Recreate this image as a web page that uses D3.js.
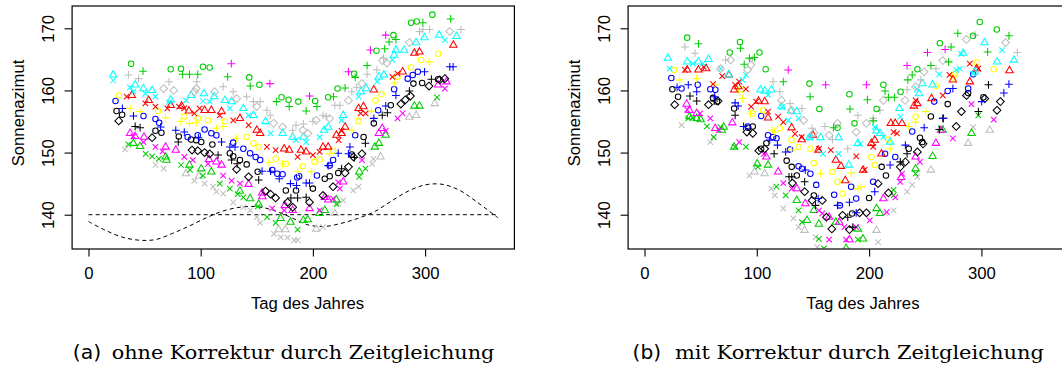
<!DOCTYPE html>
<html><head><meta charset="utf-8">
<script src="https://cdn.jsdelivr.net/npm/d3@7"></script>
<style>body{margin:0;background:#fff}svg{display:block}</style>
</head><body><svg id="c" width="1062" height="367"></svg>
<script>
// ---------- data ----------
const xTicks = [0, 100, 200, 300];
const yTicks = [140, 150, 160, 170];
const xLabel = "Tag des Jahres";
const yLabel = "Sonnenazimut";
const captionA = ["(a)", "ohne Korrektur durch Zeitgleichung"];
const captionB = ["(b)", "mit Korrektur durch Zeitgleichung"];

// equation-of-time reference curve (panel a)
const eotDay = [0, 15, 30, 45, 60, 75, 90, 105, 120, 135, 150, 165, 180, 195, 210, 225, 240, 255, 270, 285, 300, 315, 330, 345, 365];
const eotAz  = [138.9, 137.5, 136.4, 135.9, 136.0, 137.0, 138.2, 139.5, 140.6, 141.2, 141.3, 140.7, 139.6, 138.4, 138.1, 138.6, 139.4, 140.5, 142.2, 143.8, 144.8, 144.9, 144.0, 142.2, 139.5];
const baseDay = [0, 365];
const baseAz = [140, 140];

// panel (a): [day, azimuth, symbol]  o=circle t=triangle p=plus x=cross d=diamond
const a_green1 = [[38,164.3,"o"],[48.6,163.1,"p"],[73.3,163.4,"o"],[82.4,163.5,"o"],[83.9,162.6,"p"],[90,162.6,"p"],[97.4,162.6,"p"],[102,163.8,"o"],[108,163.7,"o"],[124,162.2,"p"],[143.3,162.1,"o"],[144.2,160.7,"p"],[152.3,160.9,"o"],[167.7,158.2,"p"],[172,158.9,"o"],[178.3,158.5,"o"],[178.9,157.4,"p"],[187,158.2,"o"],[194,156.7,"p"],[202,158.3,"o"],[203.6,157.4,"p"],[213.6,158.9,"o"],[218.4,159,"p"],[222,160.3,"o"],[228.7,160.4,"p"],[236.8,162.7,"o"],[237.7,162.1,"p"],[248.3,164,"p"],[256.7,166.4,"o"],[264,166.7,"p"],[268,167.8,"p"],[271.8,168.9,"o"],[274,168.2,"p"],[287.5,170.9,"o"],[292.6,171.1,"o"],[298,170.9,"p"],[306.5,172.2,"o"],[322.8,171.5,"p"]];
const a_magentaPlus = [[127.3,164.3,"p"],[161.7,161.1,"p"],[197,159.1,"p"],[231.7,163,"p"],[251.3,166.5,"p"],[264.9,168.9,"p"]];
const a_gray1 = [[35.6,162.5,"p"],[44.6,161.9,"p"],[67,160.3,"d"],[71.8,161.4,"p"],[76,160,"d"],[94.4,159.8,"d"],[96,160.3,"d"],[96.5,161.4,"p"],[112.5,159.8,"d"],[120,160.6,"p"],[129,159.8,"p"],[132,158.7,"d"],[141,159,"p"],[147,158.2,"p"],[150,157.4,"d"],[153,158.2,"p"],[159,156.8,"p"],[162,156,"p"],[165,154.7,"d"],[173,154.1,"d"],[182,153.6,"p"],[185,154.4,"p"],[191,153.6,"d"],[191.5,154.6,"p"],[195.5,153.1,"d"],[200,155,"p"],[203,155.2,"d"],[209,156,"p"],[212,155.8,"p"],[215,155.5,"d"],[219.6,157.6,"p"],[224,157.6,"p"],[231.7,158.4,"d"],[234.7,159.8,"p"],[239,160.5,"p"],[243.7,161.1,"d"],[248.3,162.6,"p"],[257,163.3,"p"],[262,164.8,"d"],[263,165.2,"p"],[266,164.4,"d"],[286,167.7,"d"],[295,169.5,"p"],[298,169.8,"p"],[304,169.8,"p"],[322,169.5,"d"],[332,169.8,"p"]];
const a_cyan = [[22,162.5,"t"],[22,161.6,"x"],[37,160.5,"x"],[40,159.8,"x"],[41.6,160.9,"t"],[49,160.3,"t"],[50.7,159.5,"x"],[56.7,160,"t"],[59.7,159,"x"],[73.3,158.5,"t"],[72,158.1,"x"],[86.9,158.4,"x"],[91.4,159.2,"t"],[102.9,159.5,"t"],[102,158.3,"x"],[108,158.2,"x"],[112,159,"t"],[121.6,158.4,"t"],[126,157.1,"x"],[127.6,158.2,"t"],[138,157.1,"t"],[142.7,156,"x"],[147,156,"t"],[157.8,155,"t"],[162.3,153.1,"x"],[173,153.1,"t"],[182,152.5,"t"],[185,152,"x"],[191.5,152.5,"t"],[194,151.7,"x"],[206,152.5,"x"],[210,153.6,"t"],[213.6,154.1,"t"],[225.6,155.2,"x"],[227,156,"t"],[240.7,159,"x"],[242.8,159.8,"t"],[247.5,160.3,"t"],[257.3,161.4,"x"],[258.8,162.2,"t"],[263.3,162.5,"t"],[270.9,164.9,"x"],[272.4,165.7,"t"],[274,166.5,"t"],[281.4,166.5,"t"],[292,167.7,"t"],[299.5,168.5,"t"],[312.5,168.9,"t"],[317.6,168.1,"x"],[328,168.7,"t"]];
const a_red = [[34,159,"x"],[38.6,159.2,"t"],[50.7,157.9,"x"],[53.7,158.4,"t"],[59.7,157.4,"x"],[70.3,157.1,"x"],[73.3,157.6,"t"],[80.8,157.4,"x"],[83,157.5,"t"],[85.4,157.1,"x"],[89.5,156.7,"t"],[94.4,156.3,"x"],[99,157.1,"x"],[103.5,156.8,"t"],[109.5,156.8,"t"],[117,156,"x"],[118.6,156.6,"t"],[129,155.2,"x"],[135,155.5,"t"],[142.7,154.4,"x"],[150,153.6,"t"],[153,153.1,"t"],[159,150.9,"x"],[166.8,150.4,"x"],[174.4,150.6,"t"],[178.9,150.4,"t"],[186.4,149.3,"x"],[189.4,150.4,"t"],[194,150.1,"t"],[200,149.6,"x"],[206,150.1,"x"],[209,150.9,"t"],[213.6,150.9,"t"],[221,152.8,"t"],[223,152,"x"],[225.6,153.1,"t"],[228.7,154.1,"t"],[225.5,153.5,"x"],[240.7,157.1,"t"],[242.5,156.3,"x"],[245,157.4,"t"],[247,156.3,"x"],[254.3,160.1,"t"],[270.9,162.2,"x"],[275.4,162.7,"x"],[280,163,"t"],[290.5,166,"t"],[295,166.2,"t"],[325.2,167.3,"t"]];
const a_yellow = [[27.1,159.2,"o"],[37,157.1,"p"],[46,156.6,"p"],[62,156.7,"o"],[68.8,155.6,"p"],[82.4,155,"p"],[85.4,155.8,"o"],[90,154.7,"p"],[96,154.8,"p"],[97.4,155.5,"o"],[106.5,155.2,"o"],[114,153.9,"p"],[120,154.2,"p"],[121.6,155,"o"],[132,152.3,"p"],[141,152.5,"o"],[147,151.5,"o"],[151.7,150.9,"o"],[160.8,148.4,"p"],[166.8,149,"o"],[172.9,148.2,"p"],[175.9,148.2,"o"],[186.4,147,"p"],[191,147.8,"o"],[198.5,146.9,"p"],[201.5,148.5,"o"],[206,148.9,"o"],[215,149.8,"p"],[218.1,150.3,"o"],[234.7,153.6,"p"],[240.7,155.1,"o"],[252.2,156.7,"p"],[255.8,158.4,"o"],[261.2,159.4,"o"],[272.4,161.2,"p"],[275.4,162.2,"o"],[287.5,163.7,"o"],[296.5,164.9,"o"],[303.5,164.6,"p"],[311.6,165.9,"o"]];
const a_blue = [[24.1,158.3,"o"],[30.2,157.1,"p"],[40.1,155.9,"p"],[49,155.9,"o"],[59.7,155.4,"o"],[63,154.8,"o"],[64.3,154.1,"p"],[77.8,153.6,"p"],[85.4,153.3,"p"],[88.4,152.5,"o"],[97.4,152.8,"o"],[98,152.4,"p"],[103.5,153.7,"o"],[109.5,153.1,"o"],[114,152.8,"o"],[118.6,151.7,"p"],[126,150.9,"p"],[129,151.6,"o"],[130.6,150.9,"p"],[138,150.6,"o"],[144,149.9,"o"],[149,149.3,"o"],[153,148.8,"o"],[154.7,147,"p"],[162.3,147,"p"],[163.8,147.2,"o"],[168.3,146.6,"o"],[170,145.8,"p"],[173,146.5,"o"],[180,145,"p"],[185.4,144.7,"p"],[186,146,"o"],[187.8,146.2,"o"],[194,145.1,"p"],[197,145.1,"p"],[203.6,146.3,"o"],[213.6,147.9,"p"],[215,147.9,"o"],[218,148.8,"o"],[222.6,149.9,"p"],[231.7,149.8,"p"],[233,150.9,"p"],[237.7,152.8,"o"],[254.3,155.5,"p"],[258.2,156.8,"o"],[264.9,157.5,"p"],[272.4,160.2,"o"],[274,159.2,"p"],[284.5,161.9,"o"],[289,162.5,"o"],[293.5,163,"o"],[299.5,163,"p"],[322,163.8,"p"],[325,163.8,"p"]];
const a_black = [[25,156.7,"o"],[27,155.1,"d"],[30,156.1,"o"],[41.6,154.2,"p"],[46,154,"p"],[56.7,152.4,"d"],[59.7,153.5,"o"],[65,153.2,"o"],[80,151.7,"p"],[80.5,152.6,"o"],[91.4,152.1,"o"],[92.3,150.4,"d"],[96,152,"o"],[97.4,150.3,"d"],[100.5,151.7,"o"],[103.5,150,"d"],[108,149.8,"d"],[110.4,151.3,"o"],[115.5,149.6,"p"],[126,149.9,"o"],[127.6,148.8,"p"],[129,149.4,"o"],[132,147.3,"d"],[132.5,148.2,"p"],[135,148.8,"o"],[141,148.1,"o"],[142.7,146.1,"d"],[150.8,146.9,"o"],[151.7,145.6,"p"],[157.8,143.8,"d"],[162.3,143.3,"d"],[166.8,142.7,"d"],[175.9,143.9,"o"],[177.4,142,"d"],[180.4,142.7,"p"],[182,141.2,"d"],[185,143.9,"o"],[186.4,142.7,"p"],[194,142.8,"p"],[197,142,"d"],[200,144.2,"o"],[209,143.1,"d"],[210.6,145.8,"o"],[215,146.2,"o"],[218,144.5,"d"],[222.6,146.7,"o"],[225.6,147.4,"p"],[228.7,146.7,"d"],[231.7,147.7,"d"],[234.7,149.7,"o"],[236.2,149.3,"d"],[237,149.2,"p"],[243.7,149.8,"d"],[245.2,152.5,"o"],[246.8,151.5,"p"],[254.3,154.7,"o"],[261.8,156,"p"],[266.4,156.4,"p"],[269.4,157.6,"o"],[278.4,157.8,"d"],[282.4,158.5,"d"],[286,159.9,"p"],[286.9,159.1,"d"],[289.6,161.1,"o"],[297.4,161.2,"o"],[303.5,160.7,"d"],[305.6,161.8,"p"],[311.6,161.8,"o"],[313,161.7,"d"],[317.6,161.9,"d"]];
const a_magenta = [[37.1,153.1,"t"],[40,152.6,"x"],[41.6,152.6,"t"],[49,151.7,"x"],[49.5,152.5,"t"],[59.7,150.9,"x"],[66,150.2,"x"],[68.8,150.9,"t"],[77.8,150.4,"t"],[85.4,149.3,"x"],[93,148.8,"x"],[106.5,148.2,"x"],[107.4,148.9,"t"],[114,148.5,"t"],[118.6,148,"t"],[120,146.3,"x"],[127.6,145.5,"x"],[135,145,"x"],[142.7,144.9,"t"],[154.7,143.5,"t"],[155,142.9,"t"],[163.8,141,"x"],[174.4,140.7,"x"],[175,141.5,"t"],[182,140.7,"t"],[197,141,"t"],[206,140.7,"x"],[210.6,142.8,"t"],[213.6,142.4,"t"],[218,142.6,"x"],[222.6,145.2,"x"],[224,144.2,"x"],[227,145.3,"t"],[243.7,148.8,"x"],[258.8,153.1,"t"],[261.8,153.9,"t"],[264.9,153.5,"x"],[275.4,155.5,"x"],[280,156.3,"x"],[311.6,160.9,"t"],[317.6,160.3,"x"],[319,161.4,"t"]];
const a_green2 = [[35.6,151.3,"x"],[40,151.5,"t"],[46,151,"t"],[51,149.8,"x"],[56.7,149.4,"x"],[62.7,149,"x"],[68.8,149.3,"t"],[69.5,148.8,"t"],[82.4,148,"x"],[89.9,148,"t"],[90.5,147.2,"x"],[100.5,147.4,"t"],[102,146.3,"x"],[109.5,146.9,"t"],[117,145,"x"],[126,144.2,"x"],[133,143.3,"x"],[135,143.8,"t"],[138,142.8,"x"],[144,142.6,"t"],[151.7,141.7,"t"],[150.8,141.3,"x"],[159.2,139.6,"x"],[166.8,138.7,"x"],[171.3,139.4,"t"],[180,138.8,"t"],[186.4,137.6,"x"],[191.5,139.1,"t"],[195.5,139.2,"t"],[206,140.2,"t"],[210.6,140.7,"t"],[221,142.4,"t"],[221,141.7,"x"],[241.3,146.9,"t"],[241.3,146.1,"x"],[246.8,147.4,"x"],[255.2,150.9,"t"],[258.8,151.5,"t"],[264.9,152.8,"t"],[290.5,157.5,"t"],[295,157.5,"t"],[310.7,158.9,"x"]];
const a_gray2 = [[32.6,150.5,"x"],[59.7,148,"x"],[67,147.4,"x"],[86.9,146.6,"t"],[94.4,145.5,"x"],[98.5,146.2,"t"],[103.5,145,"x"],[111,144.5,"x"],[114,143.7,"x"],[120,143.4,"x"],[129,142,"x"],[138,141.2,"x"],[144.2,140.7,"x"],[150,139.6,"x"],[153,138.7,"x"],[165.3,136.9,"x"],[169.5,137.6,"t"],[171.3,136.4,"x"],[175.5,137.6,"t"],[177.4,136.3,"x"],[183.4,135.9,"x"],[186.4,135.9,"x"],[203,137.7,"t"],[209,138,"x"],[219.6,140.2,"t"],[222.6,141.8,"x"],[227,142.3,"x"],[236,143.9,"x"],[240.7,144.5,"x"],[252.8,148.2,"x"],[254,149,"x"],[260.3,149.3,"t"],[286,155.7,"t"],[292,156,"t"],[308.6,157.9,"t"]];

// panel (b)
const b_green1 = [[38,168.5,"o"],[48,167.5,"p"],[75.9,166.1,"o"],[85,167.8,"o"],[85.5,166.8,"p"],[88.8,164.2,"p"],[93.4,165.2,"p"],[97.9,165.3,"p"],[102.4,166.1,"o"],[107.9,163.4,"o"],[123.6,161.4,"p"],[146.9,161.1,"o"],[147.5,159,"p"],[155.7,157,"o"],[168.3,154,"p"],[171.9,154,"o"],[182.5,159.4,"o"],[183,157,"p"],[187,154.7,"o"],[198.5,158.5,"p"],[206.7,157,"o"],[203.6,155.1,"p"],[212.7,160.9,"o"],[214.2,159.9,"p"],[217.2,158.9,"p"],[222.5,158.9,"p"],[228,159.8,"o"],[234.5,161.7,"p"],[243,163.4,"o"],[238.4,162.5,"p"],[255,164,"p"],[263,167.6,"o"],[270.8,164.6,"p"],[273,167,"p"],[279,169.2,"p"],[292.5,168.8,"o"],[298.5,171,"o"],[305.5,166.2,"p"],[313.7,169.8,"o"],[324.5,168.8,"p"]];
const b_magentaPlus = [[128,163.3,"p"],[161.3,160.9,"p"],[197.6,160.9,"p"],[233.8,164,"p"],[252,166.1,"p"],[267.7,166.6,"p"]];
const b_gray1 = [[36,167,"p"],[45,166,"p"],[67.7,163.5,"d"],[76.7,164.9,"d"],[72.2,164.9,"p"],[91.8,163.3,"d"],[94.9,164.1,"d"],[96,165,"p"],[114.5,161.4,"p"],[120.5,159.8,"p"],[122,158.4,"d"],[129.6,157.9,"p"],[131,156.8,"d"],[140.2,157.1,"p"],[141.7,155.2,"d"],[149.2,153.9,"p"],[151,153.2,"d"],[160.7,154.2,"p"],[164.4,152.8,"d"],[171.9,154.7,"d"],[167.4,152.1,"p"],[181,150.6,"p"],[188.5,153.3,"d"],[190,156,"p"],[197.6,154.7,"d"],[203.6,155.5,"p"],[209.7,156.8,"p"],[212.7,158.4,"d"],[233.8,160.1,"p"],[232,158.4,"d"],[241.4,160.6,"d"],[246,161.7,"p"],[249,163,"d"],[259.5,163.5,"p"],[265.6,164.8,"d"],[286.7,168.2,"d"],[294.3,168.9,"p"],[321.5,167.7,"d"],[332,166.1,"p"]];
const b_cyan = [[20.8,165.2,"t"],[22.4,163.5,"x"],[38,164.6,"t"],[48,164.6,"t"],[57,165,"t"],[43,164.3,"x"],[52,164.3,"x"],[67.7,163.5,"x"],[75,162.5,"t"],[87.3,161.7,"x"],[90.3,162.5,"x"],[103.3,160.1,"t"],[107,159.9,"t"],[110,159.3,"x"],[113,160.1,"t"],[122,157.4,"t"],[122.7,157.3,"x"],[130.5,156.7,"t"],[135.6,156.6,"t"],[128,155.2,"x"],[137.2,155.5,"x"],[146.8,152.4,"t"],[147.5,152.4,"x"],[156.8,152.4,"t"],[158.9,149.8,"x"],[172.8,152.4,"t"],[181.9,148,"t"],[172.8,149.8,"x"],[190,151.5,"t"],[192,151.4,"x"],[206.6,153.5,"t"],[205,154.1,"x"],[209.7,153.1,"t"],[212.7,152.5,"x"],[218.7,151.7,"t"],[227,157.1,"t"],[227.8,155.8,"x"],[244.4,159.5,"t"],[247.4,161.1,"t"],[242.5,160.2,"x"],[256.5,160.9,"t"],[262.5,162.6,"x"],[277.6,163.3,"x"],[280.7,163.5,"x"],[283.7,166,"t"],[282,165.9,"x"],[294.3,163,"t"],[292.7,162.7,"x"],[302.7,167.7,"t"],[313.9,164.6,"t"],[318.4,166.5,"x"],[329,164.9,"t"]];
const b_red = [[38,163.3,"t"],[48,163.3,"t"],[36,163.3,"x"],[52.6,163.8,"x"],[55,163.5,"t"],[61,161,"x"],[69.2,162.3,"x"],[75.2,162.5,"t"],[80.7,160.9,"x"],[84.3,161.4,"x"],[79.8,160.1,"t"],[83.5,160.6,"t"],[90.3,160.2,"x"],[94.9,157.4,"x"],[99.4,158.2,"x"],[101.5,158.3,"t"],[107,158.2,"t"],[110,156.6,"x"],[110,155.6,"t"],[119,155.8,"x"],[123.6,154.9,"x"],[131,154,"t"],[134,153,"x"],[140,152.1,"t"],[140,152.5,"x"],[150,152.8,"t"],[155.3,150.6,"x"],[154.7,150.4,"t"],[170.4,148.8,"t"],[175,147.8,"t"],[165.9,150.4,"x"],[178.8,145.5,"t"],[188.5,149.4,"x"],[196,147.2,"x"],[194.6,147.2,"t"],[202,151.5,"t"],[205,152,"t"],[203.6,150.9,"x"],[211,149.8,"t"],[219.3,154.7,"t"],[223.3,154.7,"t"],[229.3,154.7,"t"],[221.8,153.3,"x"],[224.8,153.1,"x"],[239.9,157.5,"t"],[242.9,157.9,"t"],[241.4,158.4,"x"],[255.6,158.7,"t"],[265.6,159.2,"x"],[274.6,161.7,"t"],[271.6,162.5,"x"],[289.7,161.4,"t"],[295.8,163.5,"t"],[289.7,164.3,"x"],[297.2,163.5,"x"],[325,163.2,"t"]];
const b_yellow = [[26.3,163.3,"o"],[31.4,161.7,"p"],[46.5,161.9,"p"],[63,160.9,"p"],[84.3,159.8,"p"],[87.3,158.7,"p"],[85.8,160.2,"o"],[94.3,156.3,"p"],[96.4,156.3,"o"],[105.4,156.8,"o"],[113.6,153.6,"p"],[116,153.3,"p"],[120.5,153.9,"o"],[131,152,"o"],[131,150.4,"p"],[137.2,150.9,"o"],[147.7,150.6,"o"],[150.7,148.3,"o"],[156.8,146.6,"p"],[167.4,146.9,"o"],[171.9,145.3,"o"],[176.4,143.4,"o"],[184,146.7,"p"],[190,144.2,"p"],[193,144.5,"p"],[202,149.3,"o"],[205,148,"o"],[217.2,152.1,"o"],[218.7,150.6,"p"],[235.3,154.2,"p"],[241.4,154.9,"p"],[241.4,155.8,"o"],[250.5,156.6,"p"],[259.5,160.7,"o"],[274.6,162.1,"o"],[276.1,162.6,"o"],[295.8,164.5,"o"],[311,163.4,"o"]];
const b_blue = [[23.9,162,"o"],[29,160.5,"p"],[33,160.3,"o"],[39,160.9,"p"],[46.5,159.8,"p"],[47.4,160.9,"o"],[58.6,160.2,"o"],[63.1,160.1,"o"],[62.5,159,"p"],[80.7,158,"p"],[83.4,157.5,"p"],[88.2,154.2,"p"],[91.8,154.2,"o"],[103.9,155.9,"o"],[110,152.8,"o"],[114.5,152.5,"o"],[117.5,152.3,"o"],[111.5,152,"p"],[118.4,151.2,"p"],[125.7,150.1,"p"],[129.6,150.5,"o"],[137.2,147.8,"o"],[140.2,147.4,"o"],[147.7,146.6,"o"],[143.2,147.2,"p"],[152.9,144.8,"o"],[154.7,142.6,"p"],[168.9,143.2,"o"],[171.9,141.5,"p"],[174,141.5,"o"],[184,144.5,"o"],[182.5,142,"p"],[188.5,142.6,"o"],[188.5,140.3,"p"],[203.6,145.3,"o"],[205,143.7,"p"],[214.2,149.8,"o"],[218.7,148,"p"],[223.3,149.3,"o"],[232.3,151.2,"p"],[238.4,153.4,"o"],[249,154,"p"],[258,158.2,"o"],[266.2,155.5,"p"],[270,159.9,"o"],[274.6,160.3,"p"],[288.2,160.3,"o"],[292.7,162.6,"o"],[300.3,158.2,"p"],[320,159.6,"p"],[324.5,161,"p"]];
const b_black = [[24.8,160.2,"o"],[26.9,157.7,"d"],[29.9,159,"o"],[40.5,159.1,"p"],[46.5,158.3,"p"],[57,157.7,"d"],[65.5,158.3,"d"],[61,158.8,"o"],[64.6,158.2,"o"],[62,158.3,"p"],[79.8,157.1,"o"],[80.7,156,"p"],[91.2,153.3,"d"],[96.4,153.1,"d"],[92.4,154,"o"],[96.4,154.2,"o"],[101.8,150.3,"d"],[107,150.6,"d"],[103.9,150.6,"o"],[108.5,151.5,"o"],[115.4,149.8,"p"],[131.7,145.1,"d"],[128.7,146.1,"p"],[131.1,146.1,"p"],[126.6,148.7,"o"],[131.1,147.7,"o"],[135.6,146.3,"o"],[142.6,145.3,"p"],[142.6,143.7,"d"],[149.2,142.3,"d"],[158.3,142.3,"d"],[150.8,143.1,"o"],[152.3,141.5,"p"],[162,139.6,"d"],[166.8,137.7,"d"],[176.4,139.9,"d"],[182.5,137.6,"d"],[191.5,140.3,"d"],[181,139.6,"p"],[185.5,138,"p"],[184.9,140.2,"o"],[197.6,140.3,"d"],[200,142.7,"o"],[208,145,"d"],[217.2,143.5,"d"],[211.2,147.7,"o"],[215,146.3,"o"],[227.8,147.7,"d"],[232.3,148.5,"d"],[227.8,148.5,"p"],[235.3,150.6,"o"],[243,150.1,"d"],[233.8,149.8,"p"],[245.3,152.4,"o"],[247.4,151.7,"o"],[248,151.4,"d"],[255,155.8,"o"],[262.5,153.7,"p"],[277.6,154.2,"d"],[282.2,156.6,"d"],[270,157.8,"o"],[265.6,155.5,"p"],[286.7,159.2,"d"],[288.2,159.6,"o"],[297.3,156.6,"p"],[301.8,158.9,"o"],[303,158.7,"d"],[306.3,160.9,"p"],[313.9,156.8,"d"],[316.9,158.2,"d"]];
const b_magenta = [[37.5,157.8,"t"],[38,156.9,"x"],[40,156.8,"t"],[46.5,156.3,"t"],[49.5,156.3,"x"],[58.6,155.5,"x"],[63,153.9,"t"],[66.2,153.6,"x"],[78.2,154.8,"t"],[84.3,151.7,"x"],[106.3,149.8,"x"],[108.5,149.3,"t"],[119,146.9,"t"],[123.6,145.1,"x"],[131.1,144.2,"x"],[135.6,144.2,"t"],[143.2,141.8,"t"],[155.3,140.7,"x"],[158.3,140.2,"x"],[164.4,139.6,"t"],[164.4,136,"x"],[173.4,138.8,"t"],[179.5,136,"x"],[182.5,136,"t"],[178,138,"x"],[188.5,138,"x"],[200.6,139.1,"x"],[212.7,142.6,"t"],[215.7,140.4,"x"],[223.3,142.8,"x"],[227.8,145.3,"x"],[229.3,146.6,"x"],[228.5,146,"t"],[241.4,149.3,"t"],[245.3,148.5,"x"],[259.5,151.5,"t"],[264,153.6,"t"],[274.6,152.3,"x"],[291.2,157.8,"x"],[311,155.3,"x"]];
const b_green2 = [[39,155.5,"x"],[43,155.6,"x"],[40,155.8,"t"],[46.5,155.5,"t"],[50,155.3,"t"],[55.6,154.2,"x"],[61.6,152.5,"x"],[67.7,154.1,"x"],[69,153.6,"t"],[70.5,154.1,"t"],[80.7,150.9,"x"],[79.8,150.9,"t"],[90.3,150.9,"x"],[100.3,148.2,"t"],[101,147.7,"x"],[110,148,"t"],[117.5,144.5,"x"],[125.7,143.1,"x"],[135.6,142.3,"t"],[137.2,140.7,"x"],[140.2,138.8,"x"],[144.7,139.1,"t"],[150.8,140.7,"t"],[155.3,136.1,"x"],[155.3,138.5,"t"],[159.8,134.6,"x"],[170.4,138.8,"t"],[179.5,134.6,"t"],[190,137.7,"t"],[194.6,136.1,"t"],[190,136,"x"],[206.6,141,"t"],[209.7,140.2,"t"],[221.8,143.1,"x"],[221.8,144,"x"],[241.4,147.4,"t"],[241.4,146.6,"x"],[256.5,149.4,"t"],[265.6,153.6,"t"],[264,153.9,"x"],[297.3,156,"x"],[291.2,153.1,"t"]];
const b_gray2 = [[33,154.4,"x"],[58.6,151.7,"x"],[61.6,152.5,"x"],[93.4,146.3,"x"],[97.9,146.9,"t"],[107,146.6,"t"],[113,144.2,"x"],[116,143.1,"x"],[123.6,141,"x"],[132.6,139.4,"x"],[137.2,138,"x"],[142.6,137.5,"t"],[152.3,136.4,"x"],[153.8,134.8,"x"],[206.6,137.5,"t"],[208,135.6,"x"],[214.2,140.2,"x"],[221.8,140.7,"x"],[233.8,143.7,"x"],[238.4,144.8,"x"],[242.9,146.1,"x"],[255,147.2,"t"],[288.2,151.5,"t"],[292.7,154.1,"x"],[307.5,153.6,"t"]];

// colour of each series (R default palette)
const colGreen = "#00CD00", colGray = "#BEBEBE", colCyan = "#00FFFF", colRed = "#FF0000",
      colYellow = "#FFFF00", colBlue = "#0000FF", colBlack = "#000000", colMagenta = "#FF00FF";

const panelA = [[a_gray2,colGray],[a_green2,colGreen],[a_magenta,colMagenta],[a_black,colBlack],[a_blue,colBlue],[a_yellow,colYellow],[a_red,colRed],[a_cyan,colCyan],[a_gray1,colGray],[a_green1,colGreen],[a_magentaPlus,colMagenta]];
const panelB = [[b_gray2,colGray],[b_green2,colGreen],[b_magenta,colMagenta],[b_black,colBlack],[b_blue,colBlue],[b_yellow,colYellow],[b_red,colRed],[b_cyan,colCyan],[b_gray1,colGray],[b_green1,colGreen],[b_magentaPlus,colMagenta]];

// ---------- drawing ----------
const svg = d3.select("#c");
const FONT = "'Liberation Sans', Arial, Helvetica, sans-serif";
const RAD = 2.75;

function symbolPath(s) {
  const r = RAD;
  if (s === "t") {
    const tr = 1.5551 * r, xc = tr * Math.sqrt(3) / 2, yc = tr / 2;
    return `M0,${-tr}L${xc},${yc}L${-xc},${yc}Z`;
  }
  if (s === "p") { const h = Math.SQRT2 * r; return `M${-h},0H${h}M0,${-h}V${h}`; }
  if (s === "x") { const h = r; return `M${-h},${-h}L${h},${h}M${-h},${h}L${h},${-h}`; }
  if (s === "d") { const h = Math.SQRT2 * r; return `M0,${-h}L${h},0L0,${h}L${-h},0Z`; }
  return null;
}

function panel(opts) {
  const { left, right, top, bottom, series, caption, capX, capSerifX, capSerifW, xlabX, ylabBase, id, dashed } = opts;
  const x = d3.scaleLinear().domain([-14.6, 379.6]).range([left, right]);
  const y = d3.scaleLinear().domain([134.48, 173.59]).range([bottom, top]);
  const g = svg.append("g");

  g.append("clipPath").attr("id", id).append("rect")
    .attr("x", left).attr("y", top).attr("width", right - left).attr("height", bottom - top);

  const plot = g.append("g").attr("clip-path", `url(#${id})`);

  if (dashed) {
    const line = d3.line().x(d => x(d[0])).y(d => y(d[1]));
    plot.append("path").datum(baseDay.map((d, i) => [d, baseAz[i]]))
      .attr("d", line).attr("fill", "none").attr("stroke", "#000").attr("stroke-width", 1).attr("stroke-dasharray", "4,3.2");
    plot.append("path").datum(eotDay.map((d, i) => [d, eotAz[i]]))
      .attr("d", line.curve(d3.curveCatmullRom)).attr("fill", "none").attr("stroke", "#000").attr("stroke-width", 1).attr("stroke-dasharray", "4,3.2");
  }

  series.forEach(([data, col]) => {
    const sg = plot.append("g").attr("stroke", col).attr("fill", "none").attr("stroke-width", 1.05);
    data.forEach(d => {
      const cx = x(d[0]), cy = y(d[1]);
      if (d[2] === "o") sg.append("circle").attr("cx", cx).attr("cy", cy).attr("r", RAD);
      else sg.append("path").attr("transform", `translate(${cx},${cy})`).attr("d", symbolPath(d[2]));
    });
  });

  // box
  g.append("rect").attr("x", left).attr("y", top).attr("width", right - left).attr("height", bottom - top)
    .attr("fill", "none").attr("stroke", "#000").attr("stroke-width", 1.2);

  // x axis
  const xa = g.append("g").attr("transform", `translate(0,${bottom})`)
    .call(d3.axisBottom(x).tickValues(xTicks).tickSize(7.5).tickFormat(d3.format("d")));
  xa.select(".domain").remove();
  xa.selectAll("line").attr("stroke-width", 1.1);
  xa.selectAll("text").attr("y", 29.5).attr("dy", 0).style("font-family", FONT).style("font-size", "16.7px").attr("fill", "#000");

  // y axis
  const ya = g.append("g").attr("transform", `translate(${left},0)`)
    .call(d3.axisLeft(y).tickValues(yTicks).tickSize(7.5).tickFormat(d3.format("d")));
  ya.select(".domain").remove();
  ya.selectAll("line").attr("stroke-width", 1.1);
  ya.selectAll("text").attr("transform", "rotate(-90)").attr("x", 0).attr("y", -17.8).attr("dy", 0)
    .attr("text-anchor", "middle").style("font-family", FONT).style("font-size", "16.7px").attr("fill", "#000");

  g.append("text").attr("x", xlabX).attr("y", 309).attr("text-anchor", "middle")
    .style("font-family", FONT).style("font-size", "16.7px").text(xLabel);
  g.append("text").attr("transform", `translate(${ylabBase},113) rotate(-90)`).attr("text-anchor", "middle")
    .style("font-family", FONT).style("font-size", "16.7px").text(yLabel);

  g.append("text").attr("x", capX).attr("y", 359).style("font-family", "'DejaVu Sans', sans-serif")
    .style("font-size", "19.5px").attr("textLength", 28.5).attr("lengthAdjust", "spacingAndGlyphs").text(caption[0]);
  g.append("text").attr("x", capSerifX).attr("y", 359).style("font-family", "'DejaVu Serif', serif")
    .style("font-size", "19px").attr("textLength", capSerifW).attr("lengthAdjust", "spacingAndGlyphs").text(caption[1]);
}

panel({ left: 72.1, right: 514.4, top: 6, bottom: 249, series: panelA, caption: captionA,
  capX: 72.8, capSerifX: 111.7, capSerifW: 382.7, xlabX: 307.5, ylabBase: 24, id: "clipA", dashed: true });
panel({ left: 628.1, right: 1070.8, top: 6, bottom: 249, series: panelB, caption: captionB,
  capX: 632.6, capSerifX: 674.9, capSerifW: 369, xlabX: 862.9, ylabBase: 580, id: "clipB", dashed: false });
</script></body></html>
